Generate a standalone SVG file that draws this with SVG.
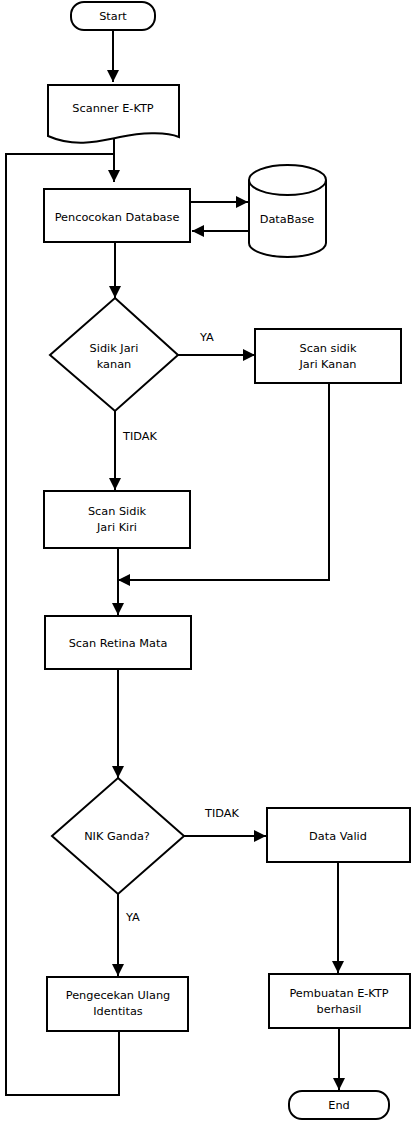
<svg xmlns="http://www.w3.org/2000/svg" width="415" height="1123" viewBox="0 0 415 1123">
<style>
.s{fill:#fff;stroke:#000;stroke-width:2}
.c{fill:none;stroke:#000;stroke-width:2}
.t{font-family:"DejaVu Sans",Verdana,sans-serif;font-size:11.3px;fill:#000;text-anchor:middle}
.l{font-family:"DejaVu Sans",Verdana,sans-serif;font-size:11.3px;fill:#000}
</style>
<defs>
<marker id="ah" markerUnits="userSpaceOnUse" markerWidth="14" markerHeight="14" refX="12" refY="6" orient="auto">
<path d="M0,0 L12,6 L0,12 z" fill="#000"/>
</marker>
</defs>
<rect width="415" height="1123" fill="#fff"/>
<g id="connectors">
<path class="c" d="M113,30 V82" marker-end="url(#ah)"/>
<path class="c" d="M114,139 V182" marker-end="url(#ah)"/>
<path class="c" d="M119,1031 V1095 H6 V154 H114"/>
<path class="c" d="M190,202 H248" marker-end="url(#ah)"/>
<path class="c" d="M249,231 H192" marker-end="url(#ah)"/>
<path class="c" d="M115,242 V298" marker-end="url(#ah)"/>
<path class="c" d="M178,355 H255" marker-end="url(#ah)"/>
<path class="c" d="M115,411 V490" marker-end="url(#ah)"/>
<path class="c" d="M329,383 V580 H118" marker-end="url(#ah)"/>
<path class="c" d="M118,548 V615" marker-end="url(#ah)"/>
<path class="c" d="M118,669 V778" marker-end="url(#ah)"/>
<path class="c" d="M184,836 H266" marker-end="url(#ah)"/>
<path class="c" d="M118,894 V976" marker-end="url(#ah)"/>
<path class="c" d="M338,862 V973" marker-end="url(#ah)"/>
<path class="c" d="M339,1028 V1090" marker-end="url(#ah)"/>
<text class="l" x="200" y="341">YA</text>
<text class="l" x="123" y="440">TIDAK</text>
<text class="l" x="205" y="817">TIDAK</text>
<text class="l" x="126" y="921">YA</text>
</g>
<g id="start">
<rect class="s" x="71" y="2" width="84" height="28" rx="13"/>
<text class="t" x="113" y="20">Start</text>
</g>
<g id="scanner">
<path class="s" d="M48,85 H179 V137 C165,131 140,133 120,137 C100,141 75,148 48,136 Z"/>
<text class="t" x="113" y="112">Scanner E-KTP</text>
</g>
<g id="pencocokan">
<rect class="s" x="44" y="189" width="146" height="53"/>
<text class="t" x="117" y="221">Pencocokan Database</text>
</g>
<g id="database">
<path class="s" d="M249,180 A38.5,15 0 0 1 326,180 V243 A38.5,14 0 0 1 249,243 Z"/>
<path class="c" d="M249,180 A38.5,15 0 0 0 326,180"/>
<text class="t" x="287" y="223">DataBase</text>
</g>
<g id="sidik-kanan">
<path class="s" d="M115,298 L178,355 L115,411 L50,355 Z"/>
<text class="t" x="114" y="352">Sidik Jari</text>
<text class="t" x="114" y="368">kanan</text>
</g>
<g id="scan-kanan">
<rect class="s" x="255" y="329" width="146" height="54"/>
<text class="t" x="328" y="352">Scan sidik</text>
<text class="t" x="328" y="368">Jari Kanan</text>
</g>
<g id="scan-kiri">
<rect class="s" x="44" y="491" width="146" height="57"/>
<text class="t" x="117" y="515">Scan Sidik</text>
<text class="t" x="117" y="531">Jari Kiri</text>
</g>
<g id="retina">
<rect class="s" x="45" y="616" width="146" height="53"/>
<text class="t" x="118" y="647">Scan Retina Mata</text>
</g>
<g id="nik">
<path class="s" d="M118,778 L184,836 L118,894 L52,836 Z"/>
<text class="t" x="117" y="840">NIK Ganda?</text>
</g>
<g id="data-valid">
<rect class="s" x="267" y="808" width="143" height="54"/>
<text class="t" x="338" y="840">Data Valid</text>
</g>
<g id="pengecekan">
<rect class="s" x="47" y="977" width="141" height="54"/>
<text class="t" x="118" y="999">Pengecekan Ulang</text>
<text class="t" x="118" y="1015">Identitas</text>
</g>
<g id="pembuatan">
<rect class="s" x="269" y="974" width="141" height="54"/>
<text class="t" x="339" y="997">Pembuatan E-KTP</text>
<text class="t" x="339" y="1013">berhasil</text>
</g>
<g id="end">
<rect class="s" x="289" y="1091" width="100" height="28" rx="13"/>
<text class="t" x="339" y="1109">End</text>
</g>
</svg>
